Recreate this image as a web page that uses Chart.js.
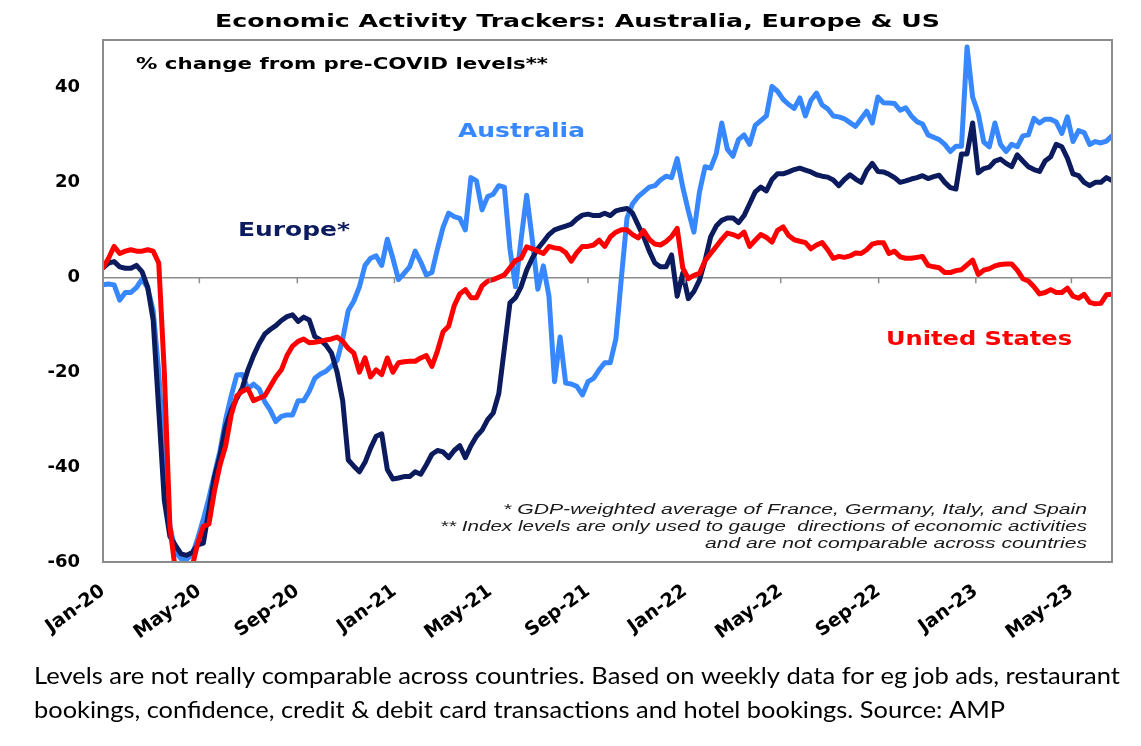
<!DOCTYPE html>
<html lang="en">

<head>
    <meta charset="UTF-8">
    <title>Economic Activity Trackers</title>
    <script src="https://cdn.jsdelivr.net/npm/chart.js"></script>
    <style>
        body { margin: 0; background: #fff; }
        canvas { display: block; }
    </style>
</head>

<body>
    <canvas id="trackerChart" width="1141" height="746"></canvas>

    <script>
        // Weekly readings, % change from pre-COVID levels, first week of Jan-20 onwards
        const australia = [
            -1.6, -1.4, -1.6, -4.8, -3.2, -3.2, -2.2, -0.4, -2.2, -7,
            -20, -39, -52.5, -57.8, -59.3, -59.4, -58.5, -55, -51, -46.5,
            -41.5, -36.5, -30, -25, -20.6, -20.5, -23.5, -22.5, -23.5, -26.2,
            -28, -30.4, -29.3, -29, -29, -26, -26, -24, -21.3, -20.4,
            -19.8, -18.7, -17.5, -13, -7, -5, -2, 2.5, 4, 4.5,
            2.5, 8, 4, -0.5, 0.8, 2.2, 5.5, 3.2, 0.5, 1,
            6, 10.5, 13.5, 12.8, 12.4, 10, 21, 20.3, 14.2, 17,
            17.5, 19.3, 19, 6, -2, 8, 17.3, 8, -2.5, 2.4,
            -4, -22, -12.6, -22.3, -22.5, -23, -24.8, -22, -21.3, -19.5,
            -18, -18, -13, 0, 12.5, 15.5, 17, 18, 19, 19.3,
            20.5, 21.3, 21, 25, 19, 14, 9.5, 18, 23.3, 23,
            26, 32.5, 27, 25.5, 29, 30, 28, 32, 33, 34,
            40.2, 39.2, 37.5, 36.4, 35.6, 37.8, 34, 37.3, 38.8, 36.3,
            35.5, 34, 33.8, 33.4, 32.6, 31.8, 33.4, 35, 32.5, 38,
            36.8, 36.7, 36.6, 35.2, 35.7, 34, 32.8, 32.3, 30, 29.5,
            29, 28, 26.5, 27.6, 27.6, 48.5, 38, 34.5, 28.5, 27.5,
            32.5, 28, 26.5, 28, 27.5, 29.8, 30, 33.5, 32.5, 33.3,
            33.3, 32.7, 30.3, 33.8, 28.6, 30.9, 30.5, 28, 28.6, 28.3,
            28.7, 29.8
        ];

        const europe = [
            2, 3, 3.3, 2.2, 1.9, 1.9, 2.5, 1.2, -2, -9,
            -28, -47, -54.6, -56.5, -58.3, -58.6, -58, -56.4, -56, -49,
            -42, -37.5, -31.5, -28, -25.5, -23.3, -19.5, -16.5, -14, -12,
            -11, -10.2, -9.1, -8.3, -7.9, -9.3, -8.4, -9, -12.5, -13.2,
            -14.3, -16, -20, -26, -38.5, -39.8, -41, -39, -36, -33.5,
            -33, -40.5, -42.5, -42.3, -42, -42, -41, -41.5, -39.5, -37.3,
            -36.5, -36.8, -38, -36.5, -35.5, -38, -35.5, -33.5, -32.2, -30,
            -28.6, -24.5, -15, -5.4, -4.3, -2, 1.5, 4, 6, 7.5,
            9, 10, 10.4, 10.8, 11.2, 12.3, 13.1, 13.3, 13, 13,
            13.5, 13, 14, 14.3, 14.5, 13.5, 11, 8.5, 5.5, 3,
            2.2, 2.2, 4.7, -4, 0.9, -4.5, -3, -0.6, 3.5, 8.5,
            10.8, 12, 12.5, 12.5, 11.5, 13, 15.5, 18, 19, 18.2,
            20.6, 21.8, 21.8, 22.2, 22.7, 23, 22.6, 22.2, 21.6, 21.3,
            21.1, 20.5, 19.3, 20.6, 21.6, 20.7, 20, 22.5, 24, 22.3,
            22.2, 21.7, 21, 20, 20.3, 20.7, 21, 21.4, 20.8, 21.2,
            21.5, 20, 18.9, 18.6, 26, 26, 32.5, 22, 22.9, 23.2,
            24.5, 24.9, 24, 23.3, 25.8, 24.5, 23.3, 22.7, 22.3, 24.5,
            25.4, 28, 27.5, 25.1, 21.8, 21.4, 20, 19.3, 20, 20,
            21, 20.4
        ];

        const unitedStates = [
            2, 4, 6.5, 5, 5.5, 5.8, 5.5, 5.5, 5.8, 5.5,
            3, -20, -52.5, -62, -64, -63, -61, -56, -52.5, -52,
            -45, -39.5, -35.5, -29, -25, -24, -23.5, -26, -25.5, -25,
            -23, -21, -19.5, -16.5, -14.5, -13.5, -13, -13.8, -13.7, -13.5,
            -13.2, -13, -12.6, -13.5, -15, -16, -20, -17, -21, -19.5,
            -20.5, -17, -20, -18, -17.8, -17.7, -17.7, -17, -16.5, -18.8,
            -15.5, -11.5, -10.3, -6, -3.5, -2.6, -4.3, -4.3, -1.8, -0.8,
            -0.5, 0, 0.5, 2, 3.5, 4, 6.4, 6, 5.5, 5,
            6.5, 6.2, 6, 5.2, 3.4, 5.2, 6.5, 6.5, 6.8, 7.8,
            6.5, 8.5, 9.5, 10, 10, 9, 8.3, 9.8, 8, 7,
            6.8, 7.5, 8.6, 10.3, 2, -0.3, 0.4, 0.8, 3.5, 5,
            6.5, 8, 9.3, 9, 8.5, 9.5, 6.5, 7.8, 9, 8.4,
            7.4, 9.9, 10.6, 8.8, 7.9, 7.6, 7.3, 6, 6.8, 7.3,
            5.8, 4, 4.4, 4.2, 4.5, 5.1, 5, 5.8, 7, 7.3,
            7.3, 5, 5.5, 4.3, 4, 4, 4.2, 4.4, 2.5, 2.2,
            2, 1, 1, 1.4, 1.6, 2.6, 3.6, 0.6, 1.5, 1.8,
            2.4, 2.7, 2.8, 2.8, 1.5, -0.3, -0.8, -2, -3.5, -3.2,
            -2.6, -3.2, -3.2, -2.3, -4, -4.4, -3.6, -5.3, -5.6, -5.5,
            -3.7, -3.6
        ];

        // axis ticks
        const monthLabels = ['Jan-20', 'May-20', 'Sep-20', 'Jan-21', 'May-21', 'Sep-21',
            'Jan-22', 'May-22', 'Sep-22', 'Jan-23', 'May-23'];
        const yTickValues = [-60, -40, -20, 0, 20, 40];

        const startDate = new Date(2020, 0, 1);
        const dayMs = 24 * 3600 * 1000;
        // day offset of each month label (every 4 months from Jan-20)
        const monthDays = monthLabels.map((lbl, k) =>
            Math.round((new Date(2020, 4 * k, 1) - startDate) / dayMs));
        const lastDay = (australia.length - 1) * 7;

        const toPoints = arr => arr.map((v, i) => ({ x: i * 7, y: v }));

        const blue = '#3787ff';
        const navy = '#0b1b5e';
        const red = '#ff0000';

        // draw text stretched to a given width (the original artwork is wide-set)
        function fitText(c, str, left, baseline, width, font, color) {
            c.save();
            c.font = font;
            const w = c.measureText(str).width;
            c.translate(left, baseline);
            c.scale(width / w, 1);
            c.fillStyle = color;
            c.textAlign = 'left';
            c.textBaseline = 'alphabetic';
            c.fillText(str, 0, 0);
            c.restore();
        }

        const decorations = {
            id: 'decorations',
            afterDraw(chart) {
                const c = chart.ctx;
                const a = chart.chartArea;
                const xs = chart.scales.x;
                const ys = chart.scales.y;

                // plot frame
                c.save();
                c.strokeStyle = '#8c8c8c';
                c.lineWidth = 2;
                c.strokeRect(a.left, a.top, a.right - a.left, a.bottom - a.top);

                // small tick marks hanging from the zero line
                const y0 = ys.getPixelForValue(0);
                c.lineWidth = 1.5;
                c.beginPath();
                monthDays.forEach(d => {
                    if (d === 0) return;
                    const px = xs.getPixelForValue(d);
                    c.moveTo(px, y0);
                    c.lineTo(px, y0 + 6);
                });
                c.stroke();
                c.restore();

                // titles and labels
                fitText(c, 'Economic Activity Trackers: Australia, Europe & US', 215, 27, 725, 'bold 18px "DejaVu Sans"', '#000');
                fitText(c, '% change from pre-COVID levels**', 136, 69, 412, 'bold 15px "DejaVu Sans"', '#000');
                fitText(c, 'Australia', 458, 137, 127, 'bold 19px "DejaVu Sans"', blue);
                fitText(c, 'Europe*', 238, 236, 112, 'bold 19px "DejaVu Sans"', navy);
                fitText(c, 'United States', 886, 345, 186, 'bold 20px "DejaVu Sans"', red);

                // footnotes, right aligned
                const fnRight = 1087;
                fitText(c, '* GDP-weighted average of France, Germany, Italy, and Spain', fnRight - 584, 514, 584, 'italic 14px "Liberation Sans"', '#1a1a1a');
                fitText(c, '** Index levels are only used to gauge  directions of economic activities', fnRight - 647, 531, 647, 'italic 14px "Liberation Sans"', '#1a1a1a');
                fitText(c, 'and are not comparable across countries', fnRight - 382, 548, 382, 'italic 14px "Liberation Sans"', '#1a1a1a');

                // caption under the chart
                fitText(c, 'Levels are not really comparable across countries. Based on weekly data for eg job ads, restaurant', 34, 684, 1086, '24px Lato', '#000');
                fitText(c, 'bookings, confidence, credit & debit card transactions and hotel bookings. Source: AMP', 34, 718, 971, '24px Lato', '#000');
            }
        };

        const ctx = document.getElementById('trackerChart').getContext('2d');

        const trackerChart = new Chart(ctx, {
            type: 'line',
            data: {
                datasets: [
                    { label: 'United States', data: toPoints(unitedStates), borderColor: red },
                    { label: 'Europe*', data: toPoints(europe), borderColor: navy },
                    { label: 'Australia', data: toPoints(australia), borderColor: blue }
                ]
            },
            options: {
                responsive: false,
                animation: false,
                devicePixelRatio: 1,
                layout: { padding: { top: 40, right: 29, left: 0, bottom: 0 } },
                elements: {
                    line: { borderWidth: 5, tension: 0, borderCapStyle: 'round', borderJoinStyle: 'round' },
                    point: { radius: 0 }
                },
                plugins: {
                    legend: { display: false },
                    tooltip: { enabled: false }
                },
                scales: {
                    x: {
                        type: 'linear',
                        min: 0,
                        max: lastDay,
                        afterFit: scale => { scale.height = 184; },
                        afterBuildTicks: scale => { scale.ticks = monthDays.map(d => ({ value: d })); },
                        grid: { display: false },
                        border: { display: false },
                        ticks: {
                            autoSkip: false,
                            minRotation: 36,
                            maxRotation: 36,
                            padding: 10,
                            color: '#000',
                            font: { family: 'DejaVu Sans', weight: 'bold', size: 19 },
                            callback: value => monthLabels[monthDays.indexOf(value)]
                        }
                    },
                    y: {
                        min: -60,
                        max: 50,
                        afterFit: scale => { scale.width = 103; },
                        afterBuildTicks: scale => { scale.ticks = yTickValues.map(v => ({ value: v })); },
                        grid: {
                            drawTicks: false,
                            lineWidth: 1.5,
                            color: c => c.tick && c.tick.value === 0 ? '#8c8c8c' : 'rgba(0,0,0,0)'
                        },
                        border: { display: false },
                        ticks: {
                            padding: 23,
                            color: '#000',
                            font: { family: 'DejaVu Sans', weight: 'bold', size: 18 }
                        }
                    }
                }
            },
            plugins: [decorations]
        });
    </script>
</body>

</html>
